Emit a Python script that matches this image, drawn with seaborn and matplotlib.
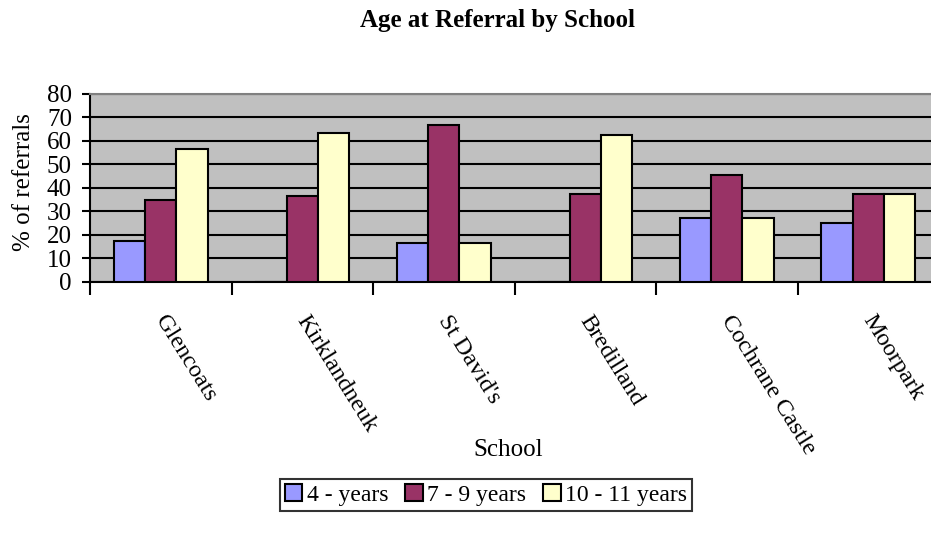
import matplotlib
matplotlib.use("Agg")
import matplotlib.pyplot as plt
from matplotlib.transforms import ScaledTranslation
import seaborn as sns
import pandas as pd

schools = ["Glencoats", "Kirklandneuk", "St David's", "Bredilland", "Cochrane Castle", "Moorpark"]
age_groups = ["4 - years", "7 - 9 years", "10 - 11 years"]
v_4 = [17.4, 0, 16.7, 0, 27.3, 25.0]
v_7_9 = [34.8, 36.4, 66.7, 37.5, 45.5, 37.5]
v_10_11 = [56.5, 63.6, 16.7, 62.5, 27.3, 37.5]
colors = ["#9999FF", "#993366", "#FFFFCC"]

rows = []
for i, s in enumerate(schools):
    for g, vals in zip(age_groups, [v_4, v_7_9, v_10_11]):
        rows.append({"School": s, "Age": g, "Pct": vals[i]})
df = pd.DataFrame(rows)

sns.set_style("white")
plt.rcParams["font.family"] = ["Liberation Serif", "DejaVu Serif"]
plt.rcParams["text.color"] = "black"
plt.rcParams["axes.labelcolor"] = "black"
plt.rcParams["xtick.color"] = "black"
plt.rcParams["ytick.color"] = "black"

FS = 18

fig = plt.figure(figsize=(9.31, 5.42), dpi=100)
x0, x1, ytop, ybot = 90, 939, 94, 282
ax = fig.add_axes([x0 / 931, 1 - ybot / 542, (x1 - x0) / 931, (ybot - ytop) / 542])
ax.set_facecolor("#C0C0C0")

sns.barplot(data=df, x="School", y="Pct", hue="Age", order=schools, hue_order=age_groups,
            palette=colors, width=0.667, edgecolor="black", linewidth=1.5,
            saturation=1, ax=ax, legend=True, zorder=3)

ax.set_ylim(0, 80)
ax.set_xlim(-0.5, len(schools) - 0.5)
ax.set_yticks(range(0, 81, 10))
ax.yaxis.grid(True, color="black", linewidth=1.5, zorder=1)
ax.set_axisbelow(True)
ax.xaxis.grid(False)

ax.set_xticks([i - 0.5 for i in range(len(schools))], minor=False)
ax.set_xticklabels([])
ax.set_xticks(range(len(schools)), minor=True)
ax.set_xticklabels(schools, minor=True, rotation=-58, ha="left", va="top",
                   rotation_mode="anchor", fontsize=17.5)
ax.tick_params(axis="x", which="minor", bottom=True, length=0, pad=21)
ax.tick_params(axis="x", which="major", bottom=True, length=9, width=1.5, direction="out")
ax.tick_params(axis="y", left=True, length=6, width=1.5, direction="out", labelsize=FS, pad=7)
shift = ScaledTranslation(8 / 100, 0, fig.dpi_scale_trans)
for lab in ax.get_xticklabels(minor=True):
    lab.set_transform(lab.get_transform() + shift)

for side in ["left", "bottom"]:
    ax.spines[side].set_color("black")
    ax.spines[side].set_linewidth(1.5)
ax.spines["top"].set_color("#808080")
ax.spines["top"].set_linewidth(1.5)
ax.spines["right"].set_visible(False)

ax.set_xlabel("School", fontsize=FS)
ax.xaxis.label.set_va("center")
ax.xaxis.set_label_coords((508 - x0) / (x1 - x0), -(450 - ybot) / (ybot - ytop))
ax.set_ylabel("% of referrals", fontsize=FS)
ax.yaxis.label.set_va("center")
ax.yaxis.set_label_coords(-(x0 - 24) / (x1 - x0), ((ybot - 182) / (ybot - ytop)))

fig.text(498 / 931, 1 - 20 / 542, "Age at Referral by School", ha="center", va="center",
         fontsize=FS, fontweight="bold")

handles, labels = ax.get_legend_handles_labels()
ax.get_legend().remove()
leg = fig.legend(handles, labels, loc="center", bbox_to_anchor=(486 / 931, 1 - 495 / 542),
                 ncol=3, frameon=True, fancybox=False, fontsize=17, handlelength=0.75,
                 handleheight=0.75, handletextpad=0.2, columnspacing=0.7, borderpad=0.2,
                 borderaxespad=0, edgecolor="black")
leg.get_frame().set_linewidth(1.5)

fig.savefig("out.png", dpi=100)
